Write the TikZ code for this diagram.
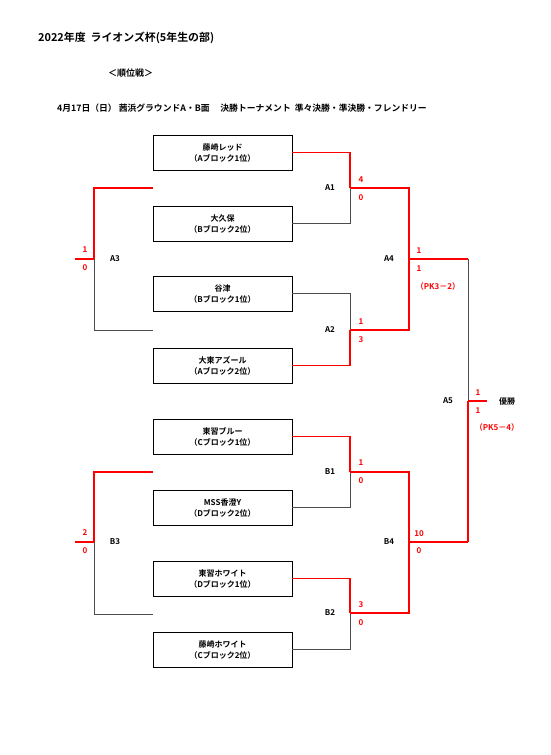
\documentclass[tikz,border=0pt]{standalone}
\usepackage{fontspec}
\setmainfont{Noto Sans CJK JP Bold}
\begin{document}
\begin{tikzpicture}[x=1pt,y=-1pt,
  team/.style={draw=black,line width=0.9pt,minimum width=139pt,minimum height=35pt,inner sep=0pt,align=center,font=\fontsize{8}{11}\selectfont},
  win/.style={draw=red,line width=1.8pt},
  lose/.style={draw=black!70,line width=1pt},
  lbl/.style={font=\fontsize{8}{9}\selectfont,inner sep=0pt},
  sc/.style={font=\fontsize{8}{9}\selectfont,text=red,inner sep=0pt}]
\useasboundingbox (0,0) rectangle (551,755);
% titles
\node[anchor=west,inner sep=0pt,font=\fontsize{10.9}{12}\selectfont] (t1) at (38,38) {2022年度\ \ ライオンズ杯(5年生の部)};
\node[anchor=west,inner sep=0pt,font=\fontsize{9}{11}\selectfont] (t2) at (108,73) {＜順位戦＞};
\node[anchor=west,inner sep=0pt,font=\fontsize{8.8}{10}\selectfont] (t3) at (57,108) {4月17日（日）\ 茜浜グラウンドA・B面\quad\ 決勝トーナメント\ \ 準々決勝・準決勝・フレンドリー};
% teams
\node[team] (b1) at (222.5,152.5) {藤崎レッド\\（Aブロック1位）};
\node[team] (b2) at (222.5,223.5) {大久保\\（Bブロック2位）};
\node[team] (b3) at (222.5,293.5) {谷津\\（Bブロック1位）};
\node[team] (b4) at (222.5,365.5) {大東アズール\\（Aブロック2位）};
\node[team] (b5) at (222.5,436.5) {東習ブルー\\（Cブロック1位）};
\node[team] (b6) at (222.5,507.5) {MSS香澄Y\\（Dブロック2位）};
\node[team] (b7) at (222.5,578.5) {東習ホワイト\\（Dブロック1位）};
\node[team] (b8) at (222.5,649.5) {藤崎ホワイト\\（Cブロック2位）};
% junctions
\coordinate (a1) at (350,188);
\coordinate (a2) at (350,330);
\coordinate (a4) at (409,259);
\coordinate (a4e) at (468,259);
\coordinate (a5) at (468,401);
\coordinate (a5e) at (487,401);
\coordinate (bb1) at (350,472);
\coordinate (bb2) at (350,613);
\coordinate (bb4) at (409,542);
\coordinate (bb4e) at (468,542);
\coordinate (a3t) at (153,188);
\coordinate (a3b) at (153,330);
\coordinate (a3) at (94,259);
\coordinate (a3o) at (75,259);
\coordinate (b3t) at (153,472);
\coordinate (b3b) at (153,614);
\coordinate (bb3) at (94,542);
\coordinate (b3o) at (75,542);
% connectors
\draw[lose] (b2.east) -| (a1);
\draw[win] (b1.east) -| (a1);
\draw[win] (a1) -| (a4);
\draw[lose] (b3.east) -| (a2);
\draw[win] (b4.east) -| (a2);
\draw[win] (a2) -| (a4);
\draw[win] (a4) -- (a4e);
\draw[lose] (a4e) -- (a5);
\draw[win] (a5) -- (a5e);
\draw[lose] (b6.east) -| (bb1);
\draw[win] (b5.east) -| (bb1);
\draw[win] (bb1) -| (bb4);
\draw[lose] (b8.east) -| (bb2);
\draw[win] (b7.east) -| (bb2);
\draw[win] (bb2) -| (bb4);
\draw[win] (bb4) -- (bb4e);
\draw[win] (bb4e) -- (a5);
\draw[lose] (a3b) -| (a3);
\draw[win] (a3t) -| (a3);
\draw[win] (a3) -- (a3o);
\draw[lose] (b3b) -| (bb3);
\draw[win] (b3t) -| (bb3);
\draw[win] (bb3) -- (b3o);
% match labels
\node[lbl] (la1) at (330,188) {A1};
\node[lbl] (la2) at (330,330) {A2};
\node[lbl] (lb1) at (330,472) {B1};
\node[lbl] (lb2) at (330,613) {B2};
\node[lbl] (la4) at (389,259) {A4};
\node[lbl] (lb4) at (389,542) {B4};
\node[lbl] (la5) at (448,401) {A5};
\node[lbl] (la3) at (115,259) {A3};
\node[lbl] (lb3) at (115,542) {B3};
\node[lbl] (win) at (507,401) {優勝};
% scores
\node[sc] (s1) at (361,180) {4};
\node[sc] (s2) at (361,198) {0};
\node[sc] (s3) at (361,322) {1};
\node[sc] (s4) at (361,340) {3};
\node[sc] (s5) at (361,463) {1};
\node[sc] (s6) at (361,481) {0};
\node[sc] (s7) at (361,605) {3};
\node[sc] (s8) at (361,623) {0};
\node[sc] (s9) at (419,251) {1};
\node[sc] (s10) at (419,269) {1};
\node[sc] (s11) at (438,286) {（PK3－2）};
\node[sc] (s12) at (419,534) {10};
\node[sc] (s13) at (419,551) {0};
\node[sc] (s14) at (478,393) {1};
\node[sc] (s15) at (478,411) {1};
\node[sc] (s16) at (497,427) {（PK5－4）};
\node[sc] (s17) at (85,250) {1};
\node[sc] (s18) at (85,268) {0};
\node[sc] (s19) at (85,533) {2};
\node[sc] (s20) at (85,551) {0};
\end{tikzpicture}
\end{document}
